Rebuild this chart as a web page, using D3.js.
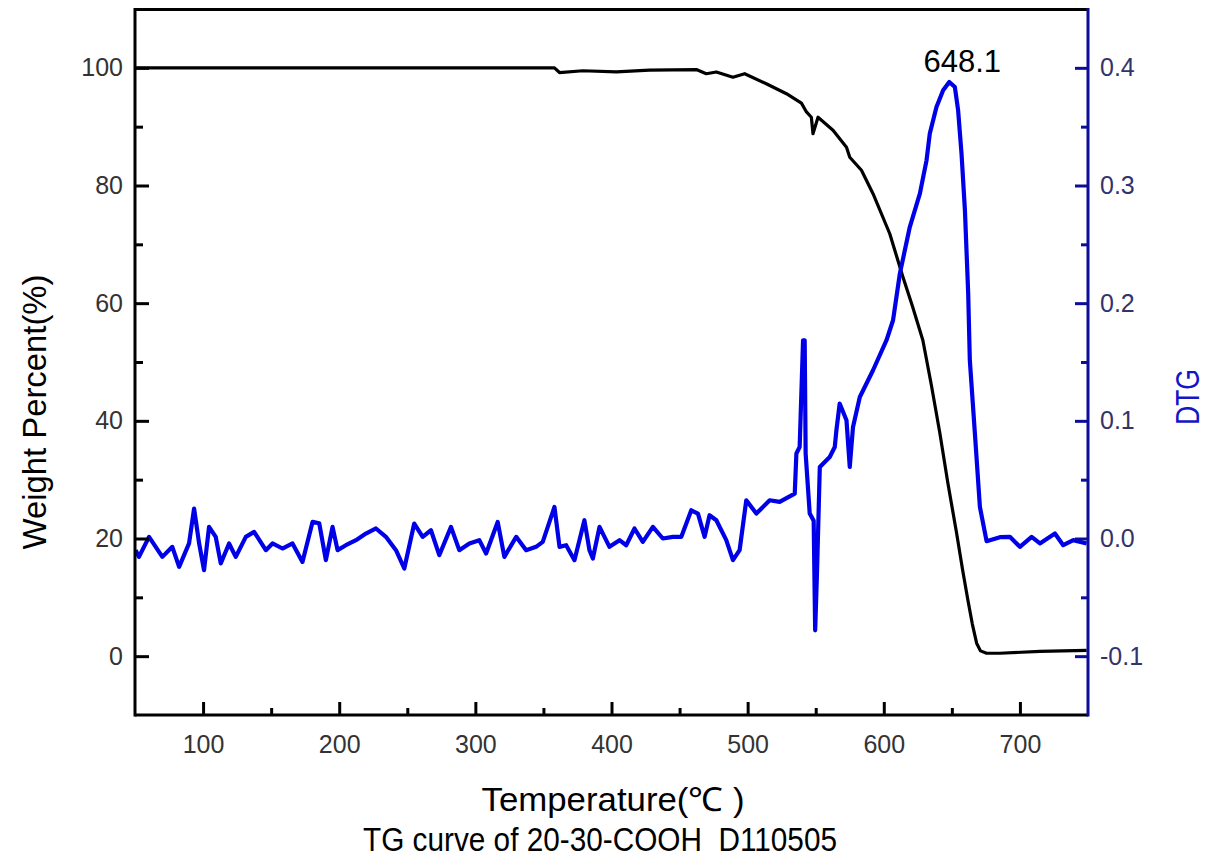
<!DOCTYPE html>
<html><head><meta charset="utf-8">
<script src="https://cdn.jsdelivr.net/npm/d3@7"></script>
<style>
html,body{margin:0;padding:0;background:#fff;}
svg{display:block;font-family:"Liberation Sans",Arial,sans-serif;}
text{white-space:pre;}
</style></head>
<body>
<svg id="chart" width="1208" height="865"></svg>
<script>
// ---- data ----
const tgTemp = [50,358.1,361.8,378.9,403.5,427.9,462.3,469.6,477,489.2,497.8,513.7,528.5,539.5,543.2,546.8,548,551.7,562.7,572.6,575,583.6,592.1,604.4,614,621,628.7,635,641.2,647,653.5,658,661.8,665,668.2,671,675.5,685.3,714.7,749];
const tgWeight = [100,100,99.2,99.5,99.3,99.6,99.7,99.0,99.3,98.4,99.0,97.3,95.6,94.0,92.5,91.6,88.8,91.6,89.4,86.5,84.8,82.6,78.6,71.8,64.5,59.5,53.7,46.0,37.9,29.5,20.9,14.5,9.5,5.5,2.2,0.9,0.5,0.5,0.8,1.0];

const dtgTemp = [50.5,52.9,60.3,70.1,77.4,82.4,89.7,93.4,97.1,100.7,104.4,109.3,113,119.1,124,131.4,137.5,146.1,151,158.3,165.7,173,180.4,185.3,190.2,195.1,198.8,204.9,212.3,219.6,227,234.3,241.7,247.8,255.1,261.3,267.4,273.5,282.1,288.2,295.6,302.9,307.9,316.4,321.3,330,337.3,344.6,349.5,358.1,361.8,366.7,372.8,380.1,383.8,386.3,391.2,398.5,405.9,410.8,416.9,423,430.4,437.7,445.1,451.3,458.6,463.5,468.4,472,477,484.3,489.2,494.1,499,506.4,516.2,523.5,534.6,535.8,538.2,540.7,541.9,542.6,545.6,548.5,549.6,551,553,560.3,564,565.2,567.6,572.6,575,577.4,582.4,587.3,592.1,602,606.8,611.8,619.1,626.5,631.4,633.8,638.7,643.6,648.1,652.2,654.6,657.1,659.6,662,663.2,666.9,670.6,675.5,685.3,692.6,700,708.6,714.7,725.7,731.8,739.2,749];
const dtgValue = [-0.0099,-0.0156,0.0014,-0.0156,-0.0071,-0.0241,-0.0042,0.0255,-0.0042,-0.0269,0.0099,0.0014,-0.0212,-0.0042,-0.0156,0.0014,0.0056,-0.0099,-0.0042,-0.0085,-0.0042,-0.0199,0.0141,0.013,-0.0184,0.0099,-0.0099,-0.0057,-0.0014,0.0042,0.0085,0.0014,-0.0099,-0.0255,0.0127,0.0014,0.007,-0.0142,0.0099,-0.0099,-0.0042,-0.0014,-0.0127,0.0141,-0.0156,0.0014,-0.0099,-0.0071,-0.0029,0.0268,-0.0071,-0.0057,-0.0184,0.0155,-0.0099,-0.017,0.0099,-0.0071,-0.0014,-0.0057,0.0085,-0.0029,0.0099,0,0.0014,0.0014,0.024,0.0212,0.0014,0.0198,0.0155,-0.0014,-0.0184,-0.0099,0.0325,0.0212,0.0325,0.0311,0.0382,0.0722,0.0778,0.1685,0.1685,0.0722,0.0212,0.015,-0.078,-0.0269,0.0608,0.0693,0.0778,0.092,0.1147,0.1005,0.0608,0.0948,0.1203,0.1317,0.143,0.1685,0.1855,0.2251,0.2647,0.2931,0.3214,0.3441,0.3667,0.3809,0.388,0.3837,0.3639,0.3271,0.2789,0.2082,0.1515,0.0895,0.0268,-0.0023,0.0011,0.0014,-0.0071,0.0014,-0.0042,0.0042,-0.0057,-0.0014,-0.0042];

const xMajor = [100,200,300,400,500,600,700];
const xMinor = [150,250,350,450,550,650];
const yMajor = [0,20,40,60,80,100];
const yMinor = [10,30,50,70,90];
const rMajor = [-0.1,0,0.1,0.2,0.3,0.4];
const rMinor = [-0.05,0.05,0.15,0.25,0.35];
const peakLabel = "648.1";
const peakTemp = 648.1, peakValue = 0.388;

// ---- drawing ----
const svg = d3.select("#chart");
const L = 135, R = 1088, T = 9, B = 715;
const x = d3.scaleLinear().domain([50,750]).range([L,R]);
const y = d3.scaleLinear().domain([-10,110]).range([B,T]);
const y2 = d3.scaleLinear().domain([-0.15,0.45]).range([B,T]);

const axisColor = "#000", rightColor = "#0d0d99", blue = "#0000e8";
const labelColor = "#333";
const fmtR = d => d3.format(".1f")(d).replace("\u2212","-");

// lines
const tgLine = d3.line().x((d,i)=>x(tgTemp[i])).y((d,i)=>y(tgWeight[i]));
svg.append("path").datum(tgTemp).attr("d", tgLine)
  .attr("fill","none").attr("stroke","#000").attr("stroke-width",3.2).attr("stroke-linejoin","round");
const dtgLine = d3.line().x((d,i)=>x(dtgTemp[i])).y((d,i)=>y2(dtgValue[i]));
svg.append("path").datum(dtgTemp).attr("d", dtgLine)
  .attr("fill","none").attr("stroke",blue).attr("stroke-width",4.2).attr("stroke-linejoin","round");

// axes
svg.append("g").attr("transform",`translate(0,${B})`)
  .call(d3.axisBottom(x).tickValues(xMajor).tickSize(-13).tickPadding(20).tickFormat(d3.format("d")));
svg.append("g").attr("transform",`translate(0,${B})`)
  .call(d3.axisBottom(x).tickValues(xMinor).tickSize(-7).tickFormat(""));
svg.append("g").attr("transform",`translate(${L},0)`)
  .call(d3.axisLeft(y).tickValues(yMajor).tickSize(-14).tickPadding(12).tickFormat(d3.format("d")));
svg.append("g").attr("transform",`translate(${L},0)`)
  .call(d3.axisLeft(y).tickValues(yMinor).tickSize(-8).tickFormat(""));
svg.append("g").attr("class","raxis").attr("transform",`translate(${R},0)`)
  .call(d3.axisRight(y2).tickValues(rMajor).tickSize(-13).tickPadding(14).tickFormat(fmtR));
svg.append("g").attr("class","raxis").attr("transform",`translate(${R},0)`)
  .call(d3.axisRight(y2).tickValues(rMinor).tickSize(-7).tickFormat(""));

svg.selectAll(".domain").remove();
svg.selectAll(".tick line").attr("stroke",axisColor).attr("stroke-width",3);
svg.selectAll(".raxis .tick line").attr("stroke",rightColor);
svg.selectAll(".tick text").attr("font-size",25).attr("fill",labelColor).attr("font-family","'Liberation Sans',Arial,sans-serif");
svg.selectAll(".raxis .tick text").attr("fill","#33336b").attr("x",12);

// frame
svg.append("line").attr("x1",L).attr("x2",R).attr("y1",T+0.5).attr("y2",T+0.5).attr("stroke","#000").attr("stroke-width",3);
svg.append("line").attr("x1",L).attr("x2",R).attr("y1",B).attr("y2",B).attr("stroke","#000").attr("stroke-width",3);
svg.append("line").attr("x1",L).attr("x2",L).attr("y1",T-1).attr("y2",B+1.5).attr("stroke","#000").attr("stroke-width",3);
svg.append("line").attr("x1",R).attr("x2",R).attr("y1",T-1).attr("y2",B+1.5).attr("stroke",rightColor).attr("stroke-width",3);

// titles
svg.append("text").attr("x",613).attr("y",811).attr("text-anchor","middle")
  .attr("font-size",33).attr("fill","#000").attr("textLength",263).attr("lengthAdjust","spacingAndGlyphs")
  .text("Temperature(℃ )");
svg.append("text").attr("x",600).attr("y",851).attr("text-anchor","middle")
  .attr("font-size",33).attr("fill","#000").attr("textLength",474).attr("lengthAdjust","spacingAndGlyphs")
  .attr("xml:space","preserve")
  .text("TG curve of 20-30-COOH  D110505");
svg.append("text").attr("transform","translate(46,412) rotate(-90)").attr("text-anchor","middle")
  .attr("font-size",33).attr("fill","#000").attr("textLength",275).attr("lengthAdjust","spacingAndGlyphs")
  .text("Weight Percent(%)");
svg.append("text").attr("transform","translate(1199,397) rotate(-90)").attr("text-anchor","middle")
  .attr("font-size",33).attr("fill","#1515c8").attr("textLength",56).attr("lengthAdjust","spacingAndGlyphs")
  .text("DTG");
svg.append("text").attr("x",x(peakTemp)+13).attr("y",y2(peakValue)-10).attr("text-anchor","middle")
  .attr("font-size",31).attr("fill","#000").text(peakLabel);
</script>
</body></html>
